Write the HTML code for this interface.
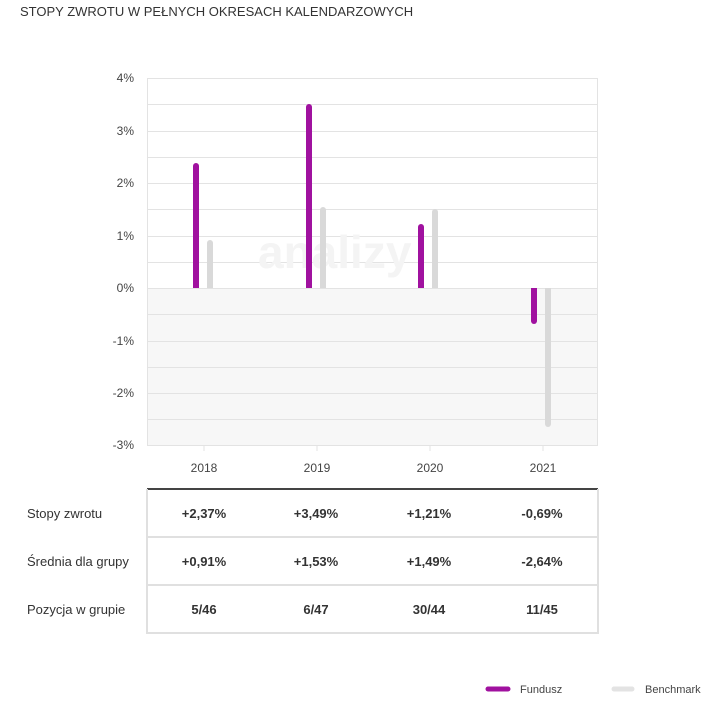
<!DOCTYPE html>
<html><head><meta charset="utf-8"><style>
body{margin:0;background:#fff;width:714px;height:705px;overflow:hidden;font-family:"Liberation Sans",sans-serif}
</style></head><body>
<svg width="714" height="705" xmlns="http://www.w3.org/2000/svg" font-family="Liberation Sans, sans-serif">
<text x="20" y="16" font-size="13" fill="#333">STOPY ZWROTU W PEŁNYCH OKRESACH KALENDARZOWYCH</text>
<rect x="147" y="288" width="451" height="157" fill="#f7f7f7"/>
<g stroke="#e3e3e3" stroke-width="1">
<line x1="147" x2="598" y1="78.5" y2="78.5"/>
<line x1="147" x2="598" y1="104.5" y2="104.5"/>
<line x1="147" x2="598" y1="131.5" y2="131.5"/>
<line x1="147" x2="598" y1="157.5" y2="157.5"/>
<line x1="147" x2="598" y1="183.5" y2="183.5"/>
<line x1="147" x2="598" y1="209.5" y2="209.5"/>
<line x1="147" x2="598" y1="236.5" y2="236.5"/>
<line x1="147" x2="598" y1="262.5" y2="262.5"/>
<line x1="147" x2="598" y1="288.5" y2="288.5"/>
<line x1="147" x2="598" y1="314.5" y2="314.5"/>
<line x1="147" x2="598" y1="341.5" y2="341.5"/>
<line x1="147" x2="598" y1="367.5" y2="367.5"/>
<line x1="147" x2="598" y1="393.5" y2="393.5"/>
<line x1="147" x2="598" y1="419.5" y2="419.5"/>
<line x1="147" x2="598" y1="445.5" y2="445.5"/>
<line x1="147.5" x2="147.5" y1="78" y2="445"/>
<line x1="597.5" x2="597.5" y1="78" y2="445"/>
<line x1="204" x2="204" y1="445" y2="451"/>
<line x1="317" x2="317" y1="445" y2="451"/>
<line x1="430" x2="430" y1="445" y2="451"/>
<line x1="543" x2="543" y1="445" y2="451"/>
</g>
<text x="258" y="268" font-size="46" fill="#f4f4f4" font-weight="bold">analizy</text>
<g font-size="12" fill="#444" text-anchor="end">
<text x="134" y="82">4%</text><text x="134" y="135">3%</text><text x="134" y="187">2%</text>
<text x="134" y="240">1%</text><text x="134" y="292">0%</text><text x="134" y="345">-1%</text>
<text x="134" y="397">-2%</text><text x="134" y="449">-3%</text>
</g>
<g stroke-width="6">
<line x1="196" x2="196" y1="166" y2="288" stroke="#a0119f"/>
<line x1="210" x2="210" y1="243" y2="288" stroke="#d9d9d9"/>
<line x1="309" x2="309" y1="107" y2="288" stroke="#a0119f"/>
<line x1="323" x2="323" y1="210" y2="288" stroke="#d9d9d9"/>
<line x1="421" x2="421" y1="227" y2="288" stroke="#a0119f"/>
<line x1="435" x2="435" y1="212" y2="288" stroke="#d9d9d9"/>
<line x1="534" x2="534" y1="288" y2="321" stroke="#a0119f"/>
<line x1="548" x2="548" y1="288" y2="424" stroke="#d9d9d9"/>
</g>
<g>
<circle cx="196" cy="166" r="3" fill="#a0119f"/><circle cx="210" cy="243" r="3" fill="#d9d9d9"/>
<circle cx="309" cy="107" r="3" fill="#a0119f"/><circle cx="323" cy="210" r="3" fill="#d9d9d9"/>
<circle cx="421" cy="227" r="3" fill="#a0119f"/><circle cx="435" cy="212" r="3" fill="#d9d9d9"/>
<circle cx="534" cy="321" r="3" fill="#a0119f"/><circle cx="548" cy="424" r="3" fill="#d9d9d9"/>
</g>
<g font-size="12" fill="#444" text-anchor="middle">
<text x="204" y="472">2018</text><text x="317" y="472">2019</text><text x="430" y="472">2020</text><text x="543" y="472">2021</text>
</g>
<line x1="147" x2="598" y1="489" y2="489" stroke="#444" stroke-width="2"/>
<g stroke="#e0e0e0" stroke-width="2">
<line x1="147" x2="598" y1="537" y2="537"/>
<line x1="147" x2="598" y1="585" y2="585"/>
<line x1="147" x2="598" y1="633" y2="633"/>
<line x1="147" x2="147" y1="489" y2="634"/>
<line x1="598" x2="598" y1="489" y2="634"/>
</g>
<g font-size="13" fill="#333">
<text x="27" y="518">Stopy zwrotu</text><text x="27" y="566">Średnia dla grupy</text><text x="27" y="614">Pozycja w grupie</text>
</g>
<g font-size="13" fill="#333" font-weight="bold" text-anchor="middle">
<text x="204" y="518">+2,37%</text><text x="316" y="518">+3,49%</text><text x="429" y="518">+1,21%</text><text x="542" y="518">-0,69%</text>
<text x="204" y="566">+0,91%</text><text x="316" y="566">+1,53%</text><text x="429" y="566">+1,49%</text><text x="542" y="566">-2,64%</text>
<text x="204" y="614">5/46</text><text x="316" y="614">6/47</text><text x="429" y="614">30/44</text><text x="542" y="614">11/45</text>
</g>
<line x1="488" x2="508" y1="689" y2="689" stroke="#a0119f" stroke-width="5" stroke-linecap="round"/>
<text x="520" y="693" font-size="11" fill="#444">Fundusz</text>
<line x1="614" x2="632" y1="689" y2="689" stroke="#e3e3e3" stroke-width="5" stroke-linecap="round"/>
<text x="645" y="693" font-size="11" fill="#444">Benchmark</text>
</svg>
</body></html>
